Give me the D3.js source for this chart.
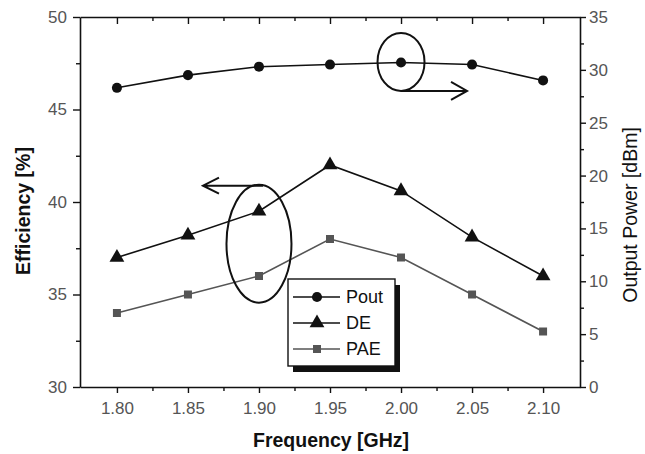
<!DOCTYPE html>
<html lang="en">
<head>
<meta charset="UTF-8">
<title>Efficiency and output power vs frequency</title>
<script src="https://d3js.org/d3.v7.min.js"></script>
<style>
  body { margin: 0; background: #fff; }
  svg text { font-family: "Liberation Sans", Arial, sans-serif; }
  .tick-label { fill: #555; font-size: 17px; }
  .axis-title { fill: #111; font-size: 19.5px; font-weight: bold; }
</style>
</head>
<body>
<div id="chart"></div>
<script>
// data
const freq = [1.80, 1.85, 1.90, 1.95, 2.00, 2.05, 2.10];
const pout = [28.3, 29.5, 30.3, 30.5, 30.7, 30.5, 29.0];   // dBm, right axis
const de   = [37.0, 38.2, 39.5, 42.0, 40.6, 38.1, 36.0];   // %, left axis
const pae  = [34.0, 35.0, 36.0, 38.0, 37.0, 35.0, 33.0];   // %, left axis
const xTicks = [1.80, 1.85, 1.90, 1.95, 2.00, 2.05, 2.10];
const effTicks = [30, 35, 40, 45, 50];
const powTicks = [0, 5, 10, 15, 20, 25, 30, 35];

const W = 645, H = 454;
const mLeft = 80, mRight = 580, mTop = 17, mBottom = 387;

const svg = d3.select("#chart").append("svg")
  .attr("width", W).attr("height", H);

const x = d3.scaleLinear().domain([1.774, 2.126]).range([mLeft, mRight]);
const yL = d3.scaleLinear().domain([30, 50]).range([mBottom, mTop]);
const yR = d3.scaleLinear().domain([0, 35]).range([mBottom, mTop]);

const xMinor = xTicks.slice(0, -1).map(v => v + 0.025);
const lMinor = effTicks.slice(0, -1).map(v => v + 2.5);
const rMinor = powTicks.slice(0, -1).map(v => v + 2.5);

function styleAxis(g) {
  g.select(".domain").attr("stroke", "#111").attr("stroke-width", 1.6);
  g.selectAll(".tick line").attr("stroke", "#111").attr("stroke-width", 1.4);
  g.selectAll(".tick text").attr("class", "tick-label").attr("font-family", null).attr("font-size", null).attr("fill", null);
}
function minorStyle(g) {
  g.select(".domain").remove();
  g.selectAll(".tick line").attr("stroke", "#111").attr("stroke-width", 1.4);
}

// bottom axis
svg.append("g").attr("transform", `translate(0,${mBottom})`)
  .call(d3.axisBottom(x).tickValues(xTicks).tickFormat(d3.format(".2f")).tickSizeInner(6).tickSizeOuter(0).tickPadding(9))
  .call(styleAxis);
svg.append("g").attr("transform", `translate(0,${mBottom})`)
  .call(d3.axisBottom(x).tickValues(xMinor).tickFormat("").tickSizeInner(4).tickSizeOuter(0))
  .call(minorStyle);

// top axis, ticks pointing inward
svg.append("g").attr("transform", `translate(0,${mTop})`)
  .call(d3.axisTop(x).tickValues(xTicks).tickFormat("").tickSizeInner(-7).tickSizeOuter(0))
  .call(styleAxis);
svg.append("g").attr("transform", `translate(0,${mTop})`)
  .call(d3.axisTop(x).tickValues(xMinor).tickFormat("").tickSizeInner(-4).tickSizeOuter(0))
  .call(minorStyle);

// left axis
svg.append("g").attr("transform", `translate(${mLeft},0)`)
  .call(d3.axisLeft(yL).tickValues(effTicks).tickSizeInner(7).tickSizeOuter(0).tickPadding(6))
  .call(styleAxis);
svg.append("g").attr("transform", `translate(${mLeft},0)`)
  .call(d3.axisLeft(yL).tickValues(lMinor).tickFormat("").tickSizeInner(4).tickSizeOuter(0))
  .call(minorStyle);

// right axis
svg.append("g").attr("transform", `translate(${mRight},0)`)
  .call(d3.axisRight(yR).tickValues(powTicks).tickSizeInner(6).tickSizeOuter(0).tickPadding(3))
  .call(styleAxis);
svg.append("g").attr("transform", `translate(${mRight},0)`)
  .call(d3.axisRight(yR).tickValues(rMinor).tickFormat("").tickSizeInner(4).tickSizeOuter(0))
  .call(minorStyle);

// axis titles
svg.append("text").attr("class", "axis-title")
  .attr("x", 331).attr("y", 447)
  .attr("text-anchor", "middle").text("Frequency [GHz]");
svg.append("text").attr("class", "axis-title")
  .attr("transform", "translate(30,211) rotate(-90)")
  .attr("text-anchor", "middle").text("Efficiency [%]");
svg.append("text").attr("class", "axis-title")
  .style("font-weight", "normal")
  .attr("transform", "translate(637,215) rotate(-90)")
  .attr("text-anchor", "middle").text("Output Power [dBm]");

// series
const series = [
  { name: "Pout", vals: pout, y: yR, color: "#111", symbol: d3.symbolCircle, size: 80 },
  { name: "DE",   vals: de,   y: yL, color: "#111", symbol: d3.symbolTriangle, size: 95 },
  { name: "PAE",  vals: pae,  y: yL, color: "#555", symbol: d3.symbolSquare, size: 64 }
];

series.forEach(s => {
  const line = d3.line().x((d, i) => x(freq[i])).y(d => s.y(d));
  svg.append("path").datum(s.vals)
    .attr("fill", "none").attr("stroke", s.color).attr("stroke-width", 1.6)
    .attr("d", line);
  svg.selectAll(null).data(s.vals).enter().append("path")
    .attr("transform", (d, i) => `translate(${x(freq[i])},${s.y(d)})`)
    .attr("d", d3.symbol().type(s.symbol).size(s.size))
    .attr("fill", s.color);
});

// annotations: ellipses with arrows pointing at the axis each group belongs to
const ann = svg.append("g").attr("fill", "none").attr("stroke", "#111").attr("stroke-width", 2);
const c1x = x(2.00), c1y = yR(30.75);
ann.append("ellipse").attr("cx", c1x).attr("cy", c1y).attr("rx", 23.5).attr("ry", 29);
ann.append("path").attr("d", `M${c1x},${c1y + 29}H${c1x + 66}M${c1x + 50},${c1y + 20}L${c1x + 66},${c1y + 29}L${c1x + 50},${c1y + 38}`);

const c2x = x(1.90), c2y = yL(37.75);
ann.append("ellipse").attr("cx", c2x).attr("cy", c2y).attr("rx", 32.5).attr("ry", 59);
ann.append("path").attr("d", `M${c2x + 4},${c2y - 58}H${c2x - 56}M${c2x - 40},${c2y - 66}L${c2x - 56},${c2y - 58}L${c2x - 40},${c2y - 50}`);

// legend
const lg = svg.append("g").attr("transform", "translate(288,279)");
const lw = 107, lh = 87;
lg.append("rect").attr("x", 5).attr("y", 6).attr("width", lw).attr("height", lh).attr("fill", "#111");
lg.append("rect").attr("width", lw).attr("height", lh)
  .attr("fill", "#fff").attr("stroke", "#111").attr("stroke-width", 1.4);
series.forEach((s, i) => {
  const ry = 18 + i * 26;
  lg.append("line").attr("x1", 5).attr("x2", 52).attr("y1", ry).attr("y2", ry)
    .attr("stroke", s.color).attr("stroke-width", 1.6);
  lg.append("path").attr("transform", `translate(29,${ry})`)
    .attr("d", d3.symbol().type(s.symbol).size(s.size)).attr("fill", s.color);
  lg.append("text").attr("x", 58).attr("y", ry + 6)
    .attr("font-size", 18).attr("fill", "#111").text(s.name);
});
</script>
</body>
</html>
